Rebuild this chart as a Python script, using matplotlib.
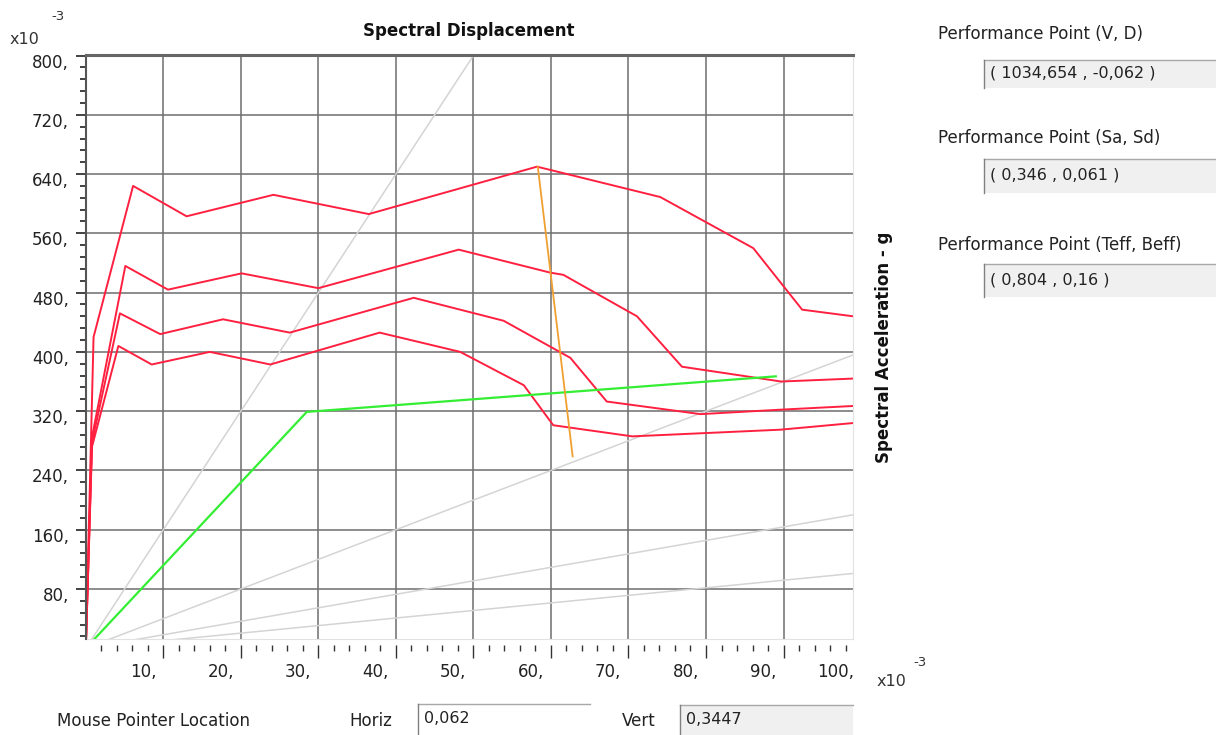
import matplotlib
matplotlib.use("Agg")
import matplotlib.pyplot as plt
from matplotlib.patches import Rectangle
from matplotlib.lines import Line2D
from matplotlib.ticker import MultipleLocator, FixedLocator
from matplotlib.transforms import ScaledTranslation

plt.rcParams['font.family'] = ['DejaVu Sans']

# capacity / demand curves (Sd in m, Sa in g)
curve1_sd = [0, 0.0010, 0.0061, 0.0130, 0.0242, 0.0365, 0.0582, 0.0741, 0.0861, 0.0924, 0.0990]
curve1_sa = [0, 0.420, 0.624, 0.583, 0.612, 0.586, 0.650, 0.609, 0.540, 0.457, 0.448]

curve2_sd = [0, 0.0008, 0.0051, 0.0106, 0.0201, 0.0300, 0.0481, 0.0599, 0.0616, 0.0711, 0.0769, 0.0897, 0.0990]
curve2_sa = [0, 0.285, 0.516, 0.484, 0.506, 0.486, 0.538, 0.507, 0.504, 0.448, 0.380, 0.360, 0.364]

curve3_sd = [0, 0.0008, 0.0044, 0.0096, 0.0177, 0.0263, 0.0423, 0.0539, 0.0625, 0.0672, 0.0793, 0.0896, 0.0990]
curve3_sa = [0, 0.278, 0.452, 0.424, 0.444, 0.426, 0.473, 0.442, 0.392, 0.333, 0.316, 0.322, 0.327]

curve4_sd = [0, 0.0008, 0.0042, 0.0085, 0.0160, 0.0238, 0.0379, 0.0483, 0.0565, 0.0603, 0.0705, 0.0896, 0.0990]
curve4_sa = [0, 0.272, 0.408, 0.383, 0.400, 0.383, 0.426, 0.400, 0.355, 0.301, 0.286, 0.295, 0.304]

red_curves = [(curve1_sd, curve1_sa), (curve2_sd, curve2_sa), (curve3_sd, curve3_sa), (curve4_sd, curve4_sa)]

# bilinear capacity
green_sd = [0, 0.0285, 0.0890]
green_sa = [0, 0.319, 0.367]

# performance point trace
orange_sd = [0.0583, 0.0628]
orange_sa = [0.650, 0.259]

# constant period lines from origin (end points)
period_sd_end = [0.050, 0.100, 0.100, 0.100]
period_sa_end = [0.800, 0.400, 0.182, 0.102]

x_tick_vals = [10, 20, 30, 40, 50, 60, 70, 80, 90, 100]
y_tick_vals = [80, 160, 240, 320, 400, 480, 560, 640, 720, 800]

W, H = 1216, 735


def fx(px):
    return px / W


def fy(py):
    return 1 - py / H


fig = plt.figure(figsize=(W / 100, H / 100), dpi=100)
fig.patch.set_facecolor('white')

ax = fig.add_axes([fx(85.8), fy(639), fx(853.3) - fx(85.8), fy(55) - fy(639)])
ax.set_xlim(0, 0.0990)
ax.set_ylim(0.0125, 0.8007)
ax.set_axisbelow(True)

for sd_end, sa_end in zip(period_sd_end, period_sa_end):
    ax.plot([0, sd_end], [0, sa_end], color='#d4d4d4', lw=1.1, zorder=1)

for sd, sa in red_curves:
    ax.plot(sd, sa, color='#ff2040', lw=1.4, zorder=2)

ax.plot(green_sd, green_sa, color='#33ee33', lw=1.6, zorder=3)
ax.plot(orange_sd, orange_sa, color='#f0a030', lw=1.3, zorder=4)

# grid and ticks
ax.xaxis.set_major_locator(FixedLocator([v * 1e-3 for v in x_tick_vals]))
ax.xaxis.set_minor_locator(FixedLocator([v * 1e-3 for v in range(2, 100, 2)]))
ax.yaxis.set_major_locator(MultipleLocator(0.08))
ax.yaxis.set_minor_locator(MultipleLocator(0.016))
ax.grid(True, which='major', color='#6e6e6e', lw=1.1)
ax.tick_params(axis='x', which='major', direction='out', length=9.5, width=1.0,
               color='#333333', labelbottom=False)
ax.tick_params(axis='x', which='minor', direction='out', length=4.5, width=1.0, color='#333333')
ax.tick_params(axis='y', which='major', direction='out', length=7.5, width=1.2,
               color='#222222', labelleft=False)
ax.tick_params(axis='y', which='minor', direction='out', length=4.5, width=1.2, color='#222222')

ax.spines['top'].set_color('#666666')
ax.spines['top'].set_linewidth(2.2)
ax.spines['left'].set_color('#555555')
ax.spines['left'].set_linewidth(1.5)
ax.spines['right'].set_color('#e2e2e2')
ax.spines['right'].set_linewidth(0.8)
ax.spines['bottom'].set_position(('outward', 4.5))
ax.spines['bottom'].set_visible(False)
ax.plot([0, 1], [0, 0], transform=ax.transAxes, color='#e2e2e2', lw=0.8, clip_on=False)

# tick labels, drawn offset like the original software
xoff = ScaledTranslation(-0.07, -0.33, fig.dpi_scale_trans)
for v in x_tick_vals:
    ax.text(v * 1e-3, 0, f"{v},", transform=ax.get_xaxis_transform() + xoff,
            ha='right', va='center', fontsize=12, color='#222222', clip_on=False)
yoff = ScaledTranslation(-0.17, -0.07, fig.dpi_scale_trans)
for v in y_tick_vals:
    ax.text(0, v * 1e-3, f"{v},", transform=ax.get_yaxis_transform() + yoff,
            ha='right', va='center', fontsize=12, color='#222222', clip_on=False)

# titles and multipliers
fig.text(fx(469), fy(31), 'Spectral Displacement', ha='center', va='center',
         fontsize=12, weight='bold', color='#111111')
fig.text(fx(884), fy(347), 'Spectral Acceleration - g', rotation=90, ha='center',
         va='center', fontsize=12, weight='bold', color='#111111')
fig.text(fx(10), fy(39), 'x10', ha='left', va='center', fontsize=11.5, color='#333333')
fig.text(fx(51), fy(17), '-3', ha='left', va='center', fontsize=9.5, color='#333333')
fig.text(fx(877), fy(681), 'x10', ha='left', va='center', fontsize=11.5, color='#333333')
fig.text(fx(913), fy(663), '-3', ha='left', va='center', fontsize=9.5, color='#333333')


def field(x0, y0, x1, y1, text, fill):
    fig.add_artist(Rectangle((fx(x0), fy(y1)), fx(x1) - fx(x0), fy(y0) - fy(y1),
                             transform=fig.transFigure, facecolor=fill,
                             edgecolor='none', zorder=1))
    fig.add_artist(Line2D([fx(x0), fx(x1)], [fy(y0), fy(y0)], transform=fig.transFigure,
                          color='#a8a8a8', lw=1.0))
    fig.add_artist(Line2D([fx(x0), fx(x0)], [fy(y0), fy(y1)], transform=fig.transFigure,
                          color='#808080', lw=1.0))
    fig.text(fx(x0 + 6), fy((y0 + y1) / 2 - 1), text, ha='left', va='center',
             fontsize=11.5, color='#222222', zorder=3)


# performance point panel
fig.text(fx(938), fy(34), 'Performance Point (V, D)', ha='left', va='center',
         fontsize=12, color='#222222')
field(984, 60, 1216, 88, '( 1034,654 , -0,062 )', '#f0f0f0')
fig.text(fx(938), fy(138), 'Performance Point (Sa, Sd)', ha='left', va='center',
         fontsize=12, color='#222222')
field(984, 159, 1216, 193, '( 0,346 , 0,061 )', '#f0f0f0')
fig.text(fx(938), fy(245), 'Performance Point (Teff, Beff)', ha='left', va='center',
         fontsize=12, color='#222222')
field(984, 264, 1216, 297, '( 0,804 , 0,16 )', '#f0f0f0')

# mouse pointer row
fig.text(fx(57), fy(721), 'Mouse Pointer Location', ha='left', va='center',
         fontsize=12, color='#222222')
fig.text(fx(349), fy(721), 'Horiz', ha='left', va='center', fontsize=12, color='#222222')
field(418, 704, 590, 735, '0,062', 'white')
fig.text(fx(622), fy(721), 'Vert', ha='left', va='center', fontsize=12, color='#222222')
field(680, 705, 853, 735, '0,3447', '#f0f0f0')

fig.savefig('out.png', dpi=100)
